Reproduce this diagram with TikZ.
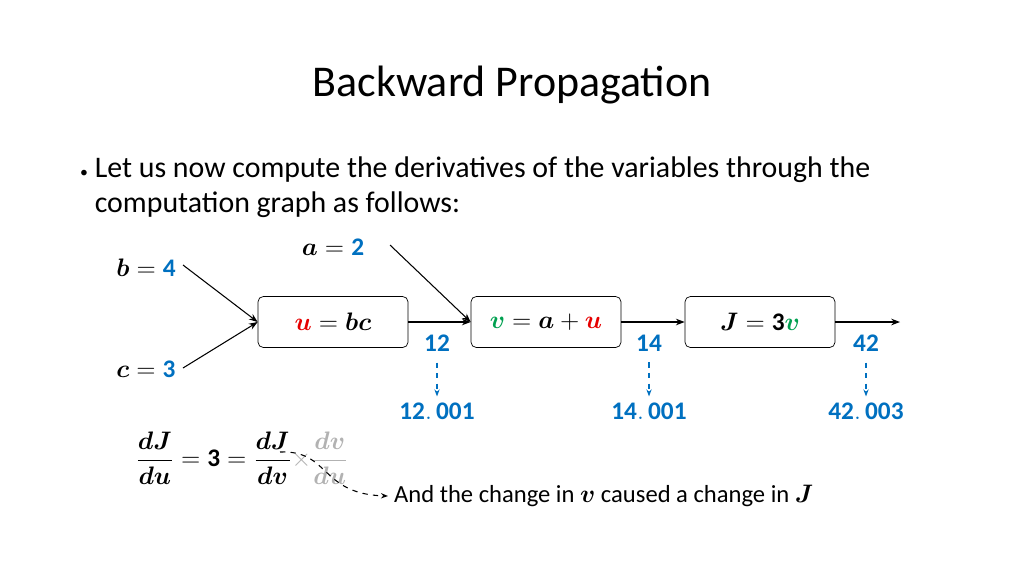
\documentclass[tikz,border=0pt]{standalone}
\usepackage{amsmath,bm}
\usepackage{fontspec}
\setmainfont{Carlito}
\usetikzlibrary{arrows.meta,positioning}
\definecolor{myred}{RGB}{230,0,0}
\definecolor{mygreen}{RGB}{0,160,80}
\definecolor{myblue}{RGB}{0,112,192}
\newcommand{\bu}{\textcolor{myred}{\bm{u}}}
\newcommand{\bv}{\textcolor{mygreen}{\bm{v}}}
\newcommand{\bn}[1]{\textcolor{myblue}{\mathbf{#1}}}
\tikzset{
  opbox/.style={draw, rounded corners=3pt, minimum width=3cm, minimum height=1.02cm, font=\Large},
  val/.style={font=\Large},
  link/.style={-{Stealth[length=5pt]}, line width=0.6pt},
  nudge/.style={-{Stealth[length=4pt]}, dashed, myblue, line width=0.6pt}
}
\begin{document}
\begin{tikzpicture}[x=0.02cm, y=-0.02cm]

\useasboundingbox (0,0) rectangle (1024,576);

% title and bullet
\node (title) at (512,85) {\fontsize{25}{30}\selectfont Backward Propagation};
\node[anchor=west] (bullet) at (74,188) {\fontsize{17}{20}\selectfont
  \begin{tabular}{@{}l@{\ }l@{}}{\small\textbullet} & Let us now compute the derivatives of the variables through the\\
  & computation graph as follows:\end{tabular}};

% inputs
\node[val] (b) at (146,268) {$\bm{b}=\bn{4}$};
\node[val] (c) at (146,369) {$\bm{c}=\bn{3}$};
\node[val] (a) at (333,247) {$\bm{a}=\bn{2}$};

% operations
\node[opbox] (u) at (333,322) {$\bu=\bm{bc}$};
\node[opbox] (v) at (546,322) {$\bv=\bm{a}+\bu$};
\node[opbox] (J) at (760,322) {$\bm{J}=\mathbf{3}\bv$};
\coordinate (out) at (900,322);
\coordinate (bend) at (183,265);
\coordinate (cend) at (183,368);
\coordinate (aend) at (390,245);

\draw[link] (bend) -- (u.west);
\draw[link] (cend) -- (u.west);
\draw[link] (aend) -- (v.west);
\draw[link] (u) -- (v);
\draw[link] (v) -- (J);
\draw[link] (J) -- (out);

% values and nudged values
\foreach \name/\x/\old/\new in {uval/437/12/12.\,001, vval/649/14/14.\,001, jval/866/42/42.\,003}{
  \node[val] (\name) at (\x,343) {$\bn{\old}$};
  \node[val] (\name n) at (\x,411) {$\bn{\new}$};
  \draw[nudge] (\name.south) ++(0,5) coordinate (\name s) -- (\name n.north);
}

% chain rule
\node[val] (chain) at (242,458) {$\dfrac{\bm{dJ}}{\bm{du}}=\mathbf{3}=\dfrac{\bm{dJ}}{\bm{dv}}
  \textcolor{black!30}{\times\dfrac{\bm{dv}}{\bm{du}}}$};
\node[anchor=west] (note) at (388,496) {\fontsize{14}{17}\selectfont And the change in $\bm{v}$ caused a change in $\bm{J}$};
\coordinate (cstart) at (280,452);
\draw[-{Stealth[length=4pt]}, dashed, line width=0.6pt] (cstart) .. controls (330,450) and (320,494) .. (note.west);

\end{tikzpicture}
\end{document}
